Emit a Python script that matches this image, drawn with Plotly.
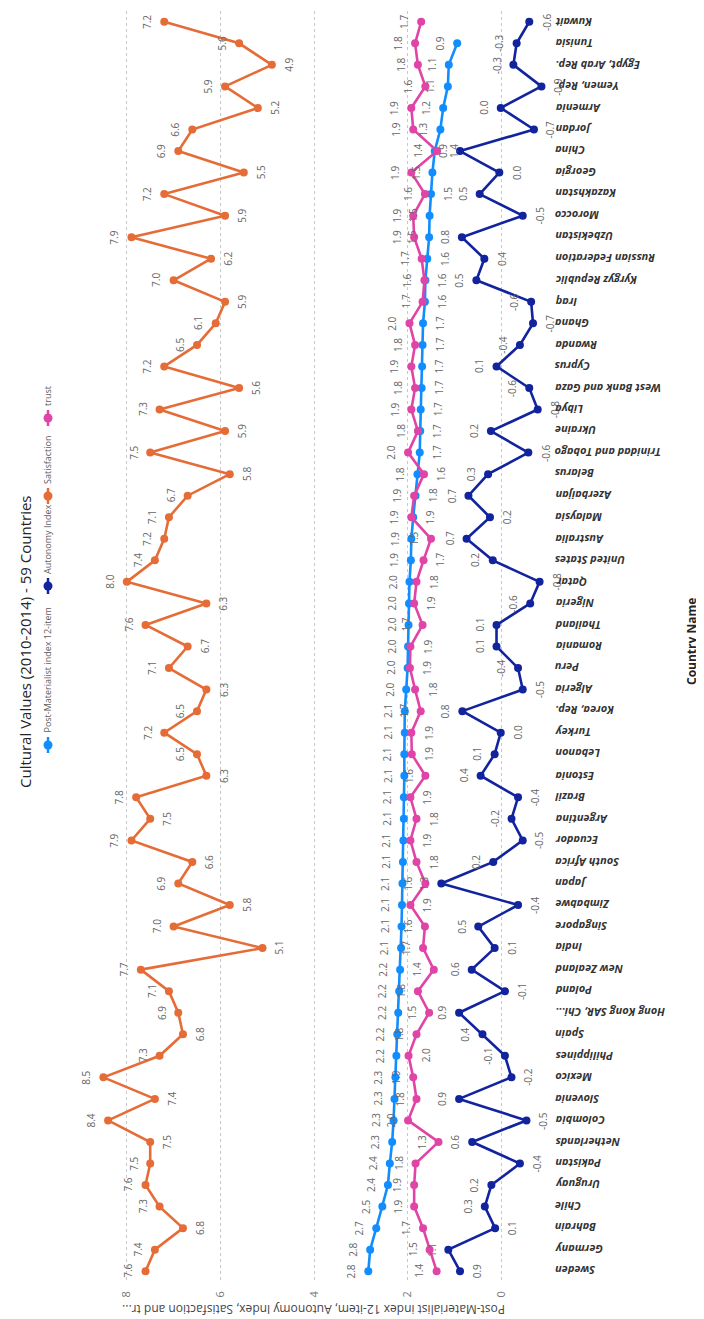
import plotly.graph_objects as go

# ---------------- data ----------------
countries = ["Sweden", "Germany", "Bahrain", "Chile", "Uruguay", "Pakistan", "Netherlands",
             "Colombia", "Slovenia", "Mexico", "Philippines", "Spain", "Hong Kong SAR, Chi...",
             "Poland", "New Zealand", "India", "Singapore", "Zimbabwe", "Japan", "South Africa",
             "Ecuador", "Argentina", "Brazil", "Estonia", "Lebanon", "Turkey", "Korea, Rep.",
             "Algeria", "Peru", "Romania", "Thailand", "Nigeria", "Qatar", "United States",
             "Australia", "Malaysia", "Azerbaijan", "Belarus", "Trinidad and Tobago", "Ukraine",
             "Libya", "West Bank and Gaza", "Cyprus", "Rwanda", "Ghana", "Iraq", "Kyrgyz Republic",
             "Russian Federation", "Uzbekistan", "Morocco", "Kazakhstan", "Georgia", "China",
             "Jordan", "Armenia", "Yemen, Rep.", "Egypt, Arab Rep.", "Tunisia", "Kuwait"]

post_materialist = [2.84, 2.80, 2.67, 2.54, 2.42, 2.38, 2.33, 2.30, 2.28, 2.26, 2.24, 2.22, 2.20,
                    2.18, 2.16, 2.14, 2.13, 2.12, 2.11, 2.10, 2.09, 2.08, 2.08, 2.07, 2.07, 2.06,
                    2.06, 2.03, 2.00, 1.99, 1.98, 1.97, 1.96, 1.93, 1.92, 1.88, 1.83, 1.79, 1.74,
                    1.73, 1.72, 1.70, 1.69, 1.68, 1.67, 1.63, 1.62, 1.58, 1.54, 1.53, 1.50, 1.47,
                    1.42, 1.30, 1.24, 1.14, 1.12, 0.94, None]

autonomy = [0.88, 1.13, 0.13, 0.35, 0.21, -0.40, 0.62, -0.54, 0.90, -0.22,
            -0.08, 0.40, 0.90, -0.08, 0.63, 0.14, 0.49, -0.36, 1.28, 0.17,
            -0.46, -0.22, -0.36, 0.44, 0.14, 0.01, 0.83, -0.46, -0.36, 0.10,
            0.10, -0.62, -0.82, 0.18, 0.74, 0.24, 0.70, 0.28, -0.58, 0.22,
            -0.78, -0.60, 0.10, -0.40, -0.68, -0.64, 0.53, 0.36, 0.84, -0.46,
            0.46, 0.04, 0.88, -0.70, 0.01, -0.86, -0.26, -0.33, -0.60]

satisfaction = [7.6, 7.4, 6.8, 7.3, 7.6, 7.5, 7.5, 8.4, 7.4, 8.5,
                7.3, 6.8, 6.9, 7.1, 7.7, 5.1, 7.0, 5.8, 6.9, 6.6,
                7.9, 7.5, 7.8, 6.3, 6.5, 7.2, 6.5, 6.3, 7.1, 6.7,
                7.6, 6.3, 8.0, 7.4, 7.2, 7.1, 6.7, 5.8, 7.5, 5.9,
                7.3, 5.6, 7.2, 6.5, 6.1, 5.9, 7.0, 6.2, 7.9, 5.9,
                7.2, 5.5, 6.9, 6.6, 5.2, 5.9, 4.9, 5.6, 7.2]

trust = [1.38, 1.53, 1.67, 1.86, 1.86, 1.83, 1.34, 1.99, 1.81, 1.88,
         1.98, 1.81, 1.54, 1.78, 1.44, 1.67, 1.63, 1.94, 1.62, 1.81,
         1.94, 1.81, 1.94, 1.62, 1.91, 1.92, 1.72, 1.84, 1.95, 1.94,
         1.68, 1.86, 1.81, 1.66, 1.50, 1.92, 1.86, 1.65, 1.99, 1.78,
         1.92, 1.84, 1.92, 1.84, 1.96, 1.68, 1.64, 1.70, 1.86, 1.88,
         1.63, 1.92, 1.37, 1.88, 1.92, 1.62, 1.78, 1.84, 1.71]

value_ticks = [0, 2, 4, 6, 8]

series_names = ["Post-Materialist index 12-item", "Autonomy Index", "Satisfaction", "trust"]
title_text = "Cultural Values (2010-2014) - 59 Countries"
value_axis_title = "Post-Materialist index 12-item, Autonomy Index, Satisfaction and tr..."
category_axis_title = "Country Name"

# ---------------- styling / geometry ----------------
C_PMI, C_AUT, C_SAT, C_TRU = "#118DFF", "#12239E", "#E66C37", "#E044A7"
W, H = 704, 1319
L, R, T, B = 72, 164, 3, 45
PW, PH = W - L - R, H - T - B
FONT = "Segoe UI, Open Sans, Noto Sans, sans-serif"
LABEL_FONT = dict(family=FONT, size=10, color="#666666")


def px_x(px):
    return (px - L) / PW


def px_y(py):
    return (T + PH - py) / PH


fig = go.Figure()
for name, vals, col in [(series_names[0], post_materialist, C_PMI),
                        (series_names[1], autonomy, C_AUT),
                        (series_names[2], satisfaction, C_SAT),
                        (series_names[3], trust, C_TRU)]:
    fig.add_trace(go.Scatter(x=vals, y=countries, mode="lines+markers", name=name,
                             line=dict(color=col, width=2.6),
                             marker=dict(color=col, size=8),
                             showlegend=False, cliponaxis=False,
                             hovertemplate="%{y}: %{x:.1f}<extra>" + name + "</extra>"))

annotations = []


def add_label(v, cat, side):
    annotations.append(dict(x=v, y=cat, xref="x", yref="y", text=f"{v:.1f}",
                            textangle=-90, showarrow=False,
                            xshift=-17 if side == "L" else 17,
                            font=LABEL_FONT))


def min_rule(vals):
    sides = []
    n = len(vals)
    for i, v in enumerate(vals):
        prev_ok = True if i == 0 or vals[i - 1] is None else v <= vals[i - 1]
        next_ok = True if i == n - 1 or vals[i + 1] is None else v < vals[i + 1]
        sides.append("R" if (prev_ok and next_ok) else "L")
    return sides


sat_sides = min_rule(satisfaction)
sat_sides[0] = "L"
for i, v in enumerate(satisfaction):
    add_label(v, countries[i], sat_sides[i])

for i, (v, s) in enumerate(zip(autonomy, min_rule(autonomy))):
    add_label(v, countries[i], s)

for i in range(len(countries)):
    p, t = post_materialist[i], trust[i]
    if p is None:
        add_label(t, countries[i], "L")
        continue
    if p >= t:
        add_label(p, countries[i], "L")
        add_label(t, countries[i], "R" if p - t < 0.3 else "L")
    else:
        add_label(t, countries[i], "L")
        add_label(p, countries[i], "R" if t - p < 0.3 else "L")

# category labels (upside down, like the reference)
for c in countries:
    annotations.append(dict(x=1, xref="paper", y=c, yref="y", text=c, textangle=180,
                            xanchor="left", xshift=5, showarrow=False,
                            font=dict(family=FONT, size=11, color="#333333",
                                      weight="bold", style="italic")))

# titles
annotations.append(dict(x=px_x(17), y=px_y(634), xref="paper", yref="paper", text=title_text,
                        textangle=-90, showarrow=False, xanchor="center", yanchor="middle",
                        font=dict(family=FONT, size=15, color="#252423")))
annotations.append(dict(x=0.5, y=0, xref="paper", yref="paper", text=value_axis_title,
                        textangle=180, showarrow=False, xanchor="center", yanchor="middle",
                        yshift=-28, font=dict(family=FONT, size=12, color="#444444")))
annotations.append(dict(x=px_x(683), y=px_y(634), xref="paper", yref="paper",
                        text=category_axis_title, textangle=-90, showarrow=False,
                        xanchor="center", yanchor="middle",
                        font=dict(family=FONT, size=12, color="#252423", weight="bold")))

# manual rotated legend
shapes = []
legend_x = 40
legend_items = [(series_names[0], C_PMI, 737, 727),
                (series_names[1], C_AUT, 578, 568),
                (series_names[2], C_SAT, 488, 478),
                (series_names[3], C_TRU, 410, 400)]
for name, col, my, ty in legend_items:
    shapes.append(dict(type="line", xref="paper", yref="paper",
                       x0=px_x(legend_x), x1=px_x(legend_x), y0=px_y(my + 8), y1=px_y(my - 8),
                       line=dict(color=col, width=2.5)))
    shapes.append(dict(type="circle", xref="paper", yref="paper",
                       xsizemode="pixel", ysizemode="pixel",
                       xanchor=px_x(legend_x), yanchor=px_y(my),
                       x0=-4.5, x1=4.5, y0=-4.5, y1=4.5,
                       fillcolor=col, line=dict(color=col, width=0)))
    annotations.append(dict(x=px_x(legend_x - 1), y=px_y(ty), xref="paper", yref="paper",
                            text=name, textangle=-90, showarrow=False,
                            xanchor="center", yanchor="bottom",
                            font=dict(family=FONT, size=9, color="#605E5C")))

fig.update_layout(
    width=W, height=H,
    margin=dict(l=L, r=R, t=T, b=B, pad=0),
    paper_bgcolor="white", plot_bgcolor="white",
    annotations=annotations, shapes=shapes,
    showlegend=False,
    xaxis=dict(range=[9, -1.0], tickvals=value_ticks, ticktext=[str(v) for v in value_ticks],
               tickangle=-90, tickfont=dict(family=FONT, size=11, color="#777777"),
               ticklabelstandoff=6,
               showgrid=True, gridcolor="#C8C8C8", griddash="dot", gridwidth=1,
               zeroline=False, showline=False, ticks="", fixedrange=True),
    yaxis=dict(type="category", categoryorder="array", categoryarray=countries,
               range=[-0.5, len(countries) - 0.5], showticklabels=False,
               showgrid=False, zeroline=False, showline=False, ticks="", fixedrange=True),
)

fig.write_html("out.html")
